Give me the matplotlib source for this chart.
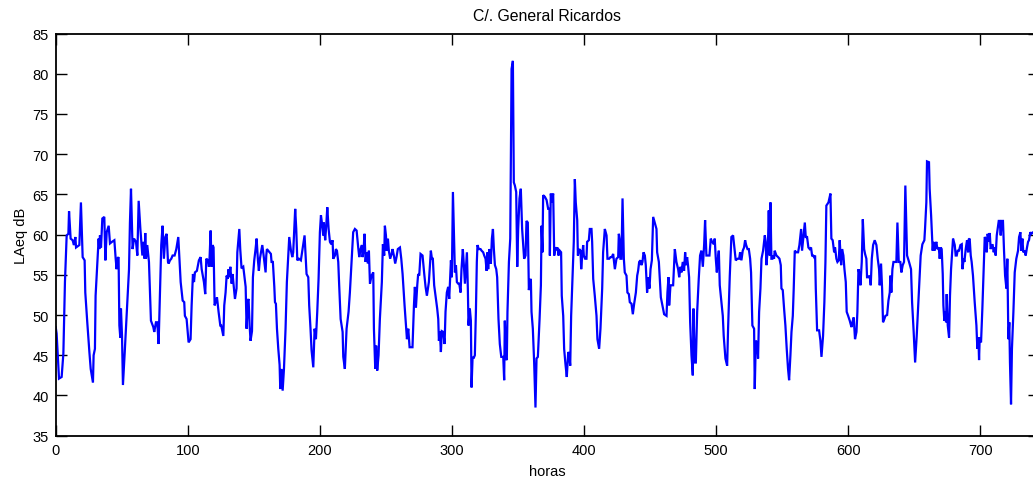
import matplotlib
matplotlib.use("Agg")
import matplotlib.pyplot as plt

plt.rcParams['font.family'] = ['Liberation Sans', 'DejaVu Sans']

title = "C/. General Ricardos"
xlabel = "horas"
ylabel = "LAeq dB"
xticks = [0, 100, 200, 300, 400, 500, 600, 700]
yticks = [35, 40, 45, 50, 55, 60, 65, 70, 75, 80, 85]

hours = [
    0.0, 0.7, 2.5, 4.5, 5.8, 7.0, 8.3, 9.6, 10.1, 11.3, 12.8, 13.8, 14.9, 15.4, 17.9, 19.1,
    20.4, 21.9, 22.4, 23.9, 25.5, 26.5, 28.2, 28.7, 29.7, 30.2, 31.0, 32.5, 33.0, 33.5, 34.3,
    35.3, 36.8, 37.6, 38.6, 40.1, 41.1, 42.6, 44.4, 45.4, 46.1, 46.6, 47.6, 48.2, 48.9, 49.4,
    50.2, 50.9, 52.2, 54.2, 55.5, 56.2, 57.0, 58.2, 59.3, 60.8, 61.8, 62.8, 64.1, 65.6, 66.6,
    67.3, 67.8, 68.3, 69.3, 70.6, 72.1, 73.9, 74.6, 75.9, 76.9, 77.9, 79.9, 80.9, 81.9, 83.0,
    84.0, 85.0, 85.5, 86.5, 87.5, 88.5, 90.0, 91.3, 92.8,
    94.6, 96.1, 97.3, 97.8, 99.1, 100.6, 102.1, 102.9, 103.9, 104.7, 105.4, 106.9, 108.4,
    109.7, 110.5, 112.2, 113.2, 114.0, 115.3, 116.0, 116.5, 117.3, 118.0, 118.8, 119.5, 120.3,
    121.1, 122.1, 123.3, 124.6, 125.3, 126.9, 127.6, 128.6, 129.4, 130.1, 130.9, 131.4, 132.2,
    133.2, 133.9, 134.7, 135.7, 136.9, 137.5, 138.2, 139.0, 139.7, 140.7, 142.0, 142.8, 143.8,
    144.5, 145.5, 146.0, 146.8, 147.5, 148.6, 149.3, 150.3, 151.3, 152.1, 153.1, 153.8, 154.6,
    155.4, 156.4, 157.4, 158.9, 159.4, 159.9, 160.9, 161.9, 162.9, 163.4, 164.4, 165.5, 166.0,
    166.7, 167.5, 168.5, 169.5, 170.0, 171.0, 171.8, 172.8, 174.0, 175.0, 176.1, 176.8, 177.6,
    178.1, 179.1, 179.8, 180.6, 181.3, 182.1, 182.9, 184.1, 185.6,
    186.9, 188.4, 189.9, 191.2, 191.9, 192.9, 193.7, 195.0, 196.0, 197.0, 198.0, 199.0, 200.0,
    200.8, 201.8, 202.5, 203.0, 204.0, 204.8, 205.6, 206.6, 207.6, 208.6, 209.6, 210.1, 211.4,
    212.1, 212.9, 213.9, 214.6, 215.7, 217.2, 217.7, 218.9, 220.2, 221.7, 222.7, 224.0, 225.2,
    226.5, 227.8, 229.0, 229.8, 230.8, 231.8, 232.3, 233.1, 233.8, 234.6, 235.3, 236.3, 237.1,
    237.9, 239.1, 240.4, 240.9, 241.9, 242.6, 243.4, 244.4, 245.4, 246.9, 247.7, 248.7, 249.2,
    250.0, 250.5, 251.5, 252.2, 253.2, 254.3, 255.0, 256.0, 257.0, 258.0, 259.0, 260.6, 261.6,
    262.6, 264.1, 265.1, 265.9, 266.9, 267.9, 270.1, 271.2, 271.9, 272.7, 273.7, 274.4, 275.2,
    276.2, 277.7, 279.0, 280.0, 281.0,
    282.5, 283.5, 284.0, 284.8, 285.5, 286.5, 287.8, 288.8, 289.6, 290.1, 290.8, 291.6, 292.3,
    293.4, 294.4, 295.1, 296.1, 297.1, 297.9, 298.6, 299.2, 299.9, 300.7, 301.4, 302.2, 303.0,
    303.7, 304.7, 305.5, 306.5, 307.2, 308.2, 309.0, 309.8, 310.5, 311.3, 312.0, 312.5, 313.5,
    314.3, 314.8, 315.6, 316.3, 317.3, 318.1, 318.8, 319.3, 320.3, 321.6, 322.4, 323.6, 324.4,
    325.4, 326.2, 326.9, 327.4, 328.2, 328.9, 329.4, 330.2, 331.0, 331.7, 332.5, 333.5, 334.2,
    335.2, 336.2, 337.3, 338.8, 339.5, 340.0, 340.8, 341.5, 342.0, 343.1, 344.1, 345.1, 346.1,
    346.8, 347.6, 348.6, 349.4, 350.1, 351.1, 352.1, 353.1, 354.6, 355.7, 356.4, 357.4, 358.2,
    358.9, 359.7, 360.2, 361.2, 362.2, 363.2, 364.0, 365.0, 366.3, 367.3, 367.8, 368.5, 369.0,
    370.3, 371.6, 372.8, 373.8,
    374.1, 374.8, 375.6, 376.6, 377.4, 378.1, 379.1, 379.9, 380.6, 381.6, 382.6, 383.1, 384.2,
    384.9, 385.9, 386.9, 388.0, 388.7, 389.5, 390.2, 391.2, 392.2, 393.0, 393.7, 394.8, 395.3,
    396.3, 397.3, 397.8, 398.5, 399.3, 399.8, 400.8, 401.8, 402.3, 403.6, 404.3, 405.6, 406.1,
    406.9, 408.1, 409.4, 410.1, 411.4, 412.4, 413.7, 414.4, 415.7, 417.0, 417.7, 419.0, 420.0,
    421.0, 422.0, 423.3, 424.5, 425.8, 426.3, 427.0, 427.5, 428.3, 429.1, 430.1, 430.8, 432.1,
    432.8, 433.9, 434.6, 435.9, 436.9, 437.9, 439.2, 440.2, 440.9, 441.7, 442.7, 443.4, 444.2,
    445.0, 446.0, 446.7, 447.7, 448.5, 449.5, 450.3, 451.3, 452.3, 453.5, 454.8, 455.3, 456.6,
    457.3, 458.1, 459.3, 460.6, 462.4, 463.1, 463.9, 464.4, 465.4, 466.4, 467.4, 468.7,
    469.9, 471.2, 472.0, 473.0, 473.7, 474.7, 475.7, 476.5, 477.2, 478.0, 478.8, 479.5, 480.3,
    481.3, 482.3, 482.8, 483.8, 484.6, 485.6, 486.8, 487.8, 488.8, 489.9, 490.9, 491.6, 492.6,
    493.9, 494.9, 495.9, 496.9, 498.2, 498.9, 499.7, 500.5, 501.0, 502.0, 502.7, 504.0, 505.0,
    505.7, 507.0, 508.3, 509.0, 510.3, 511.5, 512.8, 514.1, 514.8, 516.1, 517.4, 518.1, 519.1,
    520.1, 521.1, 521.9, 522.7, 523.7, 524.7, 525.7, 526.4, 527.4, 528.7, 529.2, 530.0, 531.0,
    531.7, 532.5, 533.5, 534.3, 535.5, 536.8, 537.5, 538.0, 539.1, 539.8, 540.6, 541.1, 541.8,
    542.6, 543.3, 543.8, 544.3, 545.6, 546.9, 547.9, 548.9, 549.4, 550.4, 551.4, 552.4, 553.4,
    554.4, 555.2, 556.2, 557.0, 558.0, 558.7, 559.5, 560.7, 562.0, 563.0,
    564.3, 565.0, 566.1, 567.1, 567.8, 568.8, 569.8, 570.8, 571.8, 572.6, 573.4, 574.1, 574.9,
    575.4, 576.4, 577.9, 578.9, 579.7, 580.9, 581.9, 582.7, 583.4, 585.0, 586.5, 587.2, 588.2,
    589.3, 590.0, 591.0, 591.8, 592.8, 593.5, 594.6, 595.3, 596.3, 597.1, 598.1, 598.8, 599.9,
    601.1, 602.4, 603.1, 604.1, 605.1, 606.2, 606.9, 607.7, 608.7, 609.2, 610.2, 611.0, 612.0,
    612.7, 613.7, 614.2, 615.2, 616.2, 617.0, 617.8, 618.8, 620.0, 621.3, 622.3, 623.3, 623.8,
    624.8, 625.6, 626.3, 627.3, 628.1, 629.4, 630.4, 631.4, 631.9, 632.6, 633.4, 634.2, 635.4,
    636.4, 637.2, 638.2, 639.4, 640.2, 641.2, 642.2, 643.2, 644.5, 646.0, 647.5, 648.3, 649.5,
    650.6, 651.8, 653.3, 654.8, 656.1, 657.6, 658.1, 659.1,
    659.6, 661.1, 661.6, 662.7, 663.4, 663.9, 664.4, 665.2, 665.9, 666.7, 667.4, 668.5, 669.2,
    670.0, 670.7, 671.5, 672.0, 672.7, 673.5, 674.0, 674.5, 675.3, 676.3, 677.0, 677.8, 679.3,
    680.6, 681.3, 682.1, 682.8, 683.8, 684.9, 685.9, 686.4, 687.4, 687.9, 688.9, 689.9, 690.7,
    691.2, 691.9, 692.7, 693.4, 694.4, 695.7, 697.0, 697.7, 698.5, 699.0, 699.5, 700.5, 701.5,
    702.5, 703.3, 704.0, 704.8, 705.5, 706.3, 707.1, 707.8, 708.6, 709.3, 710.1, 710.8, 711.6,
    712.4, 713.1, 713.9, 714.6, 715.4, 716.1, 717.1, 717.9, 718.7, 719.7, 720.4, 721.2, 721.9,
    722.4, 723.2, 723.9, 725.0, 726.0, 727.2, 728.5, 729.3, 730.3, 731.0, 731.8, 732.5, 733.5,
    734.3, 735.3, 736.1, 736.8, 737.8, 738.6, 740.0,
]

laeq = [
    48.5, 47.7, 42.1, 42.3, 45.2, 54.1, 59.9, 60.1, 62.9, 59.5, 59.3, 58.7, 59.7, 58.4, 58.7, 64.0,
    57.2, 56.8, 52.8, 49.1, 45.4, 43.3, 41.6, 45.0, 45.8, 52.4, 54.9, 59.5, 58.2, 59.9, 58.4,
    62.0, 62.2, 56.8, 60.3, 61.1, 58.9, 59.1, 59.3, 57.0, 55.7, 57.0, 57.2, 48.7, 47.2, 50.8,
    47.4, 41.3, 45.2, 51.6, 55.7, 61.5, 65.7, 58.2, 59.5, 59.1, 57.4, 64.2, 60.7, 57.4, 59.1,
    57.0, 60.2, 57.0, 58.7, 56.6, 49.3, 48.5, 47.9, 49.1, 49.1, 46.4, 58.7, 61.1, 57.0, 59.7,
    60.1, 56.6, 56.4, 56.8, 57.0, 57.4, 57.4, 58.2, 59.7,
    54.1, 51.8, 51.6, 49.9, 49.5, 46.6, 47.0, 51.2, 55.1, 54.1, 55.3, 55.5, 56.8,
    57.2, 55.7, 54.1, 52.6, 57.0, 56.8, 56.0, 57.2, 60.5, 56.0, 58.7, 58.4, 51.2,
    51.6, 52.2, 50.4, 48.7, 48.7, 47.4, 51.2, 52.8, 54.9, 54.5, 55.7, 54.7, 56.0,
    53.9, 55.1, 53.7, 52.0, 53.3, 57.8, 59.1, 60.7, 58.2, 55.8, 56.0, 54.9, 53.5,
    48.3, 51.8, 52.0, 48.7, 46.8, 48.0, 54.7, 56.8, 58.2, 59.5, 56.8, 55.5, 57.0,
    57.8, 58.7, 57.4, 55.3, 57.4, 58.2, 58.0, 57.8, 57.6, 56.6, 56.6, 53.5, 51.6,
    51.4, 48.3, 45.8, 43.8, 40.8, 43.3, 40.6, 43.3, 48.3, 54.1, 57.4, 59.7, 58.7,
    58.0, 57.2, 57.8, 60.7, 63.2, 60.7, 56.8, 57.0, 56.8,
    58.2, 59.9, 55.1, 54.7, 51.2, 48.3, 45.6, 43.5, 48.3, 47.0, 50.4, 54.5, 60.3,
    62.4, 61.1, 59.9, 61.5, 59.3, 61.1, 63.4, 60.7, 59.1, 58.8, 59.3, 57.0, 57.4,
    58.2, 58.0, 56.6, 53.7, 49.5, 47.9, 44.8, 43.3, 48.3, 50.4, 52.8, 56.6, 60.3,
    60.7, 60.5, 58.4, 57.2, 58.2, 58.7, 57.2, 58.2, 60.1, 56.6, 57.8, 56.4, 58.0,
    53.9, 54.9, 55.3, 48.3, 43.3, 46.2, 43.1, 45.0, 49.5, 54.1, 58.8, 57.4, 61.1,
    59.9, 58.0, 59.5, 58.0, 57.0, 57.6, 58.2, 57.4, 56.4, 57.2, 58.2, 58.4, 57.0,
    55.1, 51.2, 48.9, 47.0, 48.3, 46.0, 46.0, 51.2, 53.5, 50.9, 53.7, 55.1, 54.9,
    57.6, 57.4, 55.1, 53.5, 52.4,
    54.1, 56.6, 58.0, 57.0, 57.0, 53.7, 52.0, 50.8, 49.5, 46.8, 48.0, 45.4, 48.0,
    47.9, 46.4, 50.4, 52.8, 53.5, 52.0, 54.5, 56.8, 54.7, 65.3, 60.5, 55.3, 56.2,
    54.1, 53.9, 53.9, 52.8, 55.7, 58.2, 56.2, 53.9, 55.7, 57.8, 53.3, 48.7, 50.8,
    49.3, 41.0, 44.8, 44.6, 45.0, 50.4, 56.6, 58.7, 58.2, 58.2, 58.0, 57.8, 57.4,
    57.0, 55.5, 57.8, 55.7, 58.2, 57.6, 56.4, 59.5, 60.7, 58.2, 56.2, 55.7, 54.7,
    49.5, 46.4, 44.8, 44.8, 41.9, 49.3, 44.6, 44.4, 50.4, 56.6, 59.5, 80.6, 81.6,
    66.5, 66.1, 65.3, 56.0, 60.7, 64.5, 65.7, 60.7, 57.0, 57.4, 61.7, 61.5, 53.1,
    54.1, 54.5, 50.4, 48.3, 44.1, 38.5, 44.6, 44.8, 49.5, 53.7, 61.1, 57.8, 64.9,
    64.7, 64.3, 63.2, 63.2,
    57.4, 65.1, 64.0, 65.1, 57.4, 58.4, 58.2, 58.4, 57.4, 58.0, 57.8, 52.4, 49.9,
    45.8, 43.9, 42.3, 45.4, 45.2, 43.7, 49.9, 54.5, 59.1, 66.9, 64.0, 61.8, 57.4,
    58.2, 58.0, 55.7, 57.2, 58.7, 57.4, 57.0, 57.0, 59.1, 59.3, 60.7, 60.7, 59.1,
    54.5, 52.4, 49.9, 47.0, 45.8, 48.3, 53.3, 57.8, 60.7, 59.9, 57.0, 57.0, 57.2,
    57.2, 57.6, 55.7, 57.0, 57.2, 60.1, 59.3, 57.0, 57.0, 64.5, 57.0, 55.3, 54.9,
    52.8, 52.6, 51.6, 51.4, 50.1, 51.4, 52.8, 54.9, 55.5, 56.6, 56.8, 56.2, 56.6,
    57.8, 57.4, 56.2, 52.8, 54.7, 53.3, 55.7, 56.8, 62.2, 61.5, 60.7, 57.8, 56.6,
    54.5, 52.2, 51.2, 50.1, 49.9, 52.8, 54.7, 51.2, 53.7, 53.7, 53.7, 58.2,
    56.6, 55.7, 54.7, 56.0, 55.3, 56.6, 55.5, 57.8, 56.2, 57.2, 56.0, 54.7, 49.1,
    45.0, 42.5, 50.8, 44.1, 44.1, 50.4, 54.5, 57.4, 58.0, 56.0, 58.8, 61.8, 57.4,
    57.4, 57.4, 59.5, 59.1, 58.8, 59.5, 57.0, 55.3, 56.6, 58.0, 53.7, 51.6, 49.9,
    47.4, 44.6, 43.7, 48.3, 54.9, 59.7, 59.9, 57.8, 56.8, 57.0, 57.0, 57.8, 56.8,
    58.0, 58.4, 59.3, 58.7, 58.2, 58.2, 57.0, 55.3, 48.7, 48.3, 40.8, 46.8, 46.6,
    44.6, 50.4, 53.3, 57.0, 58.0, 59.9, 59.1, 56.2, 58.2, 63.0, 57.4, 64.0, 57.0,
    57.0, 57.4, 57.0, 58.0, 57.4, 57.2, 57.0, 56.2, 53.3, 53.1, 50.8, 48.7, 45.8,
    43.3, 41.9, 45.0, 47.9, 49.9, 53.3, 58.0, 57.8, 57.8, 58.7,
    60.7, 58.0, 59.9, 61.5, 59.7, 59.7, 58.4, 58.2, 58.4, 57.4, 57.4, 57.2, 57.4,
    53.3, 48.1, 48.1, 46.8, 44.8, 47.4, 51.6, 56.6, 63.6, 64.0, 65.1, 59.5, 59.3,
    57.8, 58.4, 57.0, 56.6, 56.8, 59.3, 56.2, 58.2, 57.4, 55.7, 54.1, 50.4, 49.9,
    49.3, 48.5, 49.1, 49.7, 47.0, 47.9, 50.4, 55.7, 54.9, 53.7, 56.6, 61.9, 58.2,
    57.6, 57.0, 54.7, 54.7, 54.9, 53.7, 57.0, 58.7, 59.3, 58.7, 57.0, 55.7, 53.7,
    56.4, 53.3, 49.1, 49.5, 49.9, 50.0, 51.8, 52.8, 54.9, 52.8, 55.7, 56.6, 56.6,
    56.6, 61.5, 56.6, 56.6, 55.3, 56.2, 56.6, 66.1, 57.4, 56.6, 55.7, 51.6, 47.9,
    44.1, 47.4, 52.4, 57.4, 58.8, 59.3, 60.7, 64.0,
    69.1, 69.0, 65.7, 62.4, 59.9, 58.0, 59.1, 58.0, 58.7, 59.1, 58.2, 58.4, 57.0,
    58.4, 58.2, 55.1, 51.2, 49.3, 50.4, 49.1, 52.6, 48.7, 47.2, 52.4, 55.7, 59.5,
    58.7, 57.4, 57.4, 58.0, 58.0, 58.7, 58.8, 55.7, 57.0, 56.6, 58.2, 59.3, 57.8,
    59.4, 59.5, 57.4, 56.6, 54.9, 51.6, 48.7, 45.8, 47.2, 44.4, 47.2, 46.6, 50.8,
    55.7, 59.7, 59.5, 57.8, 60.1, 59.1, 60.2, 58.2, 58.7, 58.7, 57.8, 58.4, 57.4,
    59.9, 60.7, 61.7, 61.7, 59.9, 61.7, 61.7, 58.0, 54.9, 53.3, 57.0, 47.0, 49.1,
    44.1, 38.9, 45.8, 50.4, 55.3, 57.0, 58.0, 59.7, 60.3, 58.0, 59.5, 57.8, 58.0,
    57.4, 58.4, 59.1, 59.3, 60.3, 60.1, 60.3,
]

W, H, DPI = 1033, 481, 100
fig = plt.figure(figsize=(W / DPI, H / DPI), dpi=DPI)
ax_left, ax_right, ax_top, ax_bottom = 55.7, 1038.5, 34.5, 436.7
ax = fig.add_axes([ax_left / W, 1 - ax_bottom / H,
                   (ax_right - ax_left) / W, (ax_bottom - ax_top) / H])

ax.plot(hours, laeq, color=(0, 0, 1), linewidth=1.6, solid_joinstyle='miter')

ax.set_xlim(0, 744)
ax.set_ylim(35, 85)
ax.set_xticks(xticks)
ax.set_yticks(yticks)
ax.tick_params(direction='in', length=8, width=1.0, top=True, right=True,
               labelsize=10.5, colors='black', pad=5)
for s in ax.spines.values():
    s.set_linewidth(1.3)
    s.set_color('black')

ax.set_title(title, fontsize=11.4, pad=10)
ax.set_xlabel(xlabel, fontsize=10.5, labelpad=5)
ax.set_ylabel(ylabel, fontsize=10.5, labelpad=3)

fig.savefig("out.png", dpi=DPI)
